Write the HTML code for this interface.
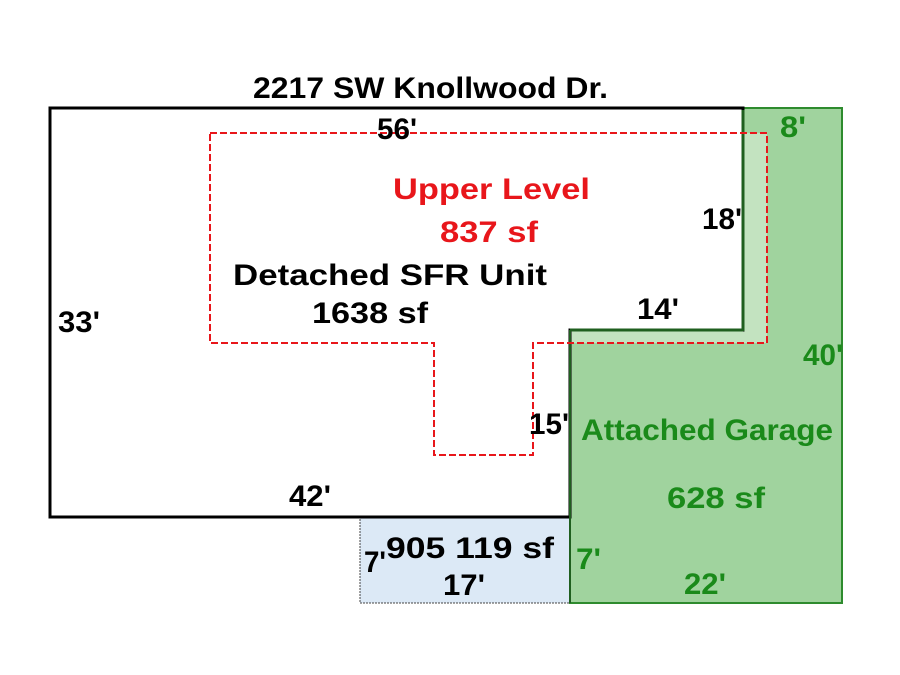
<!DOCTYPE html>
<html><head><style>body{margin:0;background:#fff}svg{display:block}</style></head>
<body>
<svg width="900" height="675" viewBox="0 0 900 675" xmlns="http://www.w3.org/2000/svg" font-family="Liberation Sans, sans-serif" font-weight="bold">
<rect width="900" height="675" fill="#fff"/>
<polygon points="743,108 842,108 842,603 570,603 570,330 743,330" fill="#a0d39e" stroke="#2e8b2e" stroke-width="2"/>
<rect x="744" y="133" width="23" height="210" fill="#c3e3c0"/>
<rect x="571" y="331" width="196" height="12" fill="#c3e3c0"/>
<rect x="360" y="517" width="210" height="86" fill="#dce9f6" stroke="#444" stroke-width="1" stroke-dasharray="2,1"/>
<polygon points="50,108 743,108 743,330 570,330 570,517 50,517" fill="#fff" stroke="#000" stroke-width="3"/>
<line x1="743" y1="110" x2="743" y2="331" stroke="#1f5f1f" stroke-width="3"/>
<line x1="570" y1="330" x2="570" y2="603" stroke="#1f5f1f" stroke-width="2"/>
<line x1="570" y1="330" x2="743" y2="330" stroke="#1f5f1f" stroke-width="3"/>
<polygon points="210,133 767,133 767,343 533,343 533,455 434,455 434,343 210,343" fill="none" stroke="#e8161b" stroke-width="2" stroke-dasharray="7,3"/>
<g font-size="30">
<text x="253" y="98" textLength="355" lengthAdjust="spacingAndGlyphs">2217 SW Knollwood Dr.</text>
<text x="377" y="139" textLength="40" lengthAdjust="spacingAndGlyphs">56'</text>
<text x="393" y="199" fill="#e8161b" textLength="197" lengthAdjust="spacingAndGlyphs">Upper Level</text>
<text x="440" y="242" fill="#e8161b" textLength="98" lengthAdjust="spacingAndGlyphs">837 sf</text>
<text x="702" y="229" textLength="40" lengthAdjust="spacingAndGlyphs">18'</text>
<text x="233" y="285" textLength="314" lengthAdjust="spacingAndGlyphs">Detached SFR Unit</text>
<text x="312" y="323" textLength="116" lengthAdjust="spacingAndGlyphs">1638 sf</text>
<text x="58" y="332" textLength="42" lengthAdjust="spacingAndGlyphs">33'</text>
<text x="637" y="319" textLength="42" lengthAdjust="spacingAndGlyphs">14'</text>
<text x="780" y="137" fill="#1a8a1a" textLength="26" lengthAdjust="spacingAndGlyphs">8'</text>
<text x="803" y="365" fill="#1a8a1a" textLength="40" lengthAdjust="spacingAndGlyphs">40'</text>
<text x="529" y="434" textLength="40" lengthAdjust="spacingAndGlyphs">15'</text>
<text x="581" y="440" fill="#1a8a1a" textLength="252" lengthAdjust="spacingAndGlyphs">Attached Garage</text>
<text x="667" y="508" fill="#1a8a1a" textLength="98" lengthAdjust="spacingAndGlyphs">628 sf</text>
<text x="289" y="506" textLength="42" lengthAdjust="spacingAndGlyphs">42'</text>
<text x="364" y="572" textLength="22" lengthAdjust="spacingAndGlyphs">7'</text>
<text x="386" y="558" textLength="168" lengthAdjust="spacingAndGlyphs">905 119 sf</text>
<text x="443" y="595" textLength="42" lengthAdjust="spacingAndGlyphs">17'</text>
<text x="576" y="569" fill="#1a8a1a" textLength="25" lengthAdjust="spacingAndGlyphs">7'</text>
<text x="684" y="594" fill="#1a8a1a" textLength="42" lengthAdjust="spacingAndGlyphs">22'</text>
</g>
</svg>
</body></html>
